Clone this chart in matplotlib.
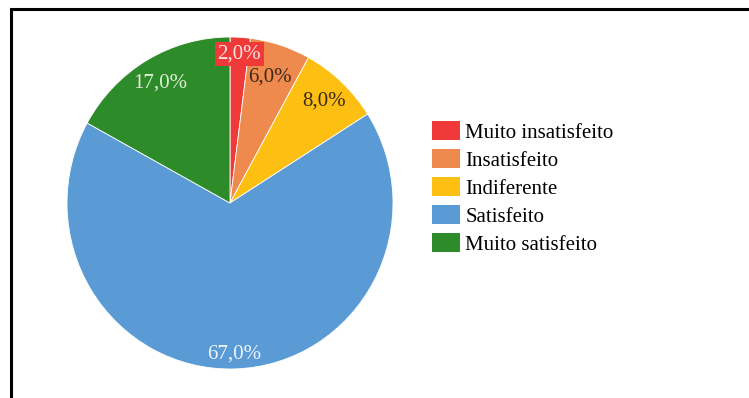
import numpy as np
import matplotlib
matplotlib.use("Agg")
import matplotlib.pyplot as plt
from matplotlib.patches import Rectangle

plt.rcParams['font.family'] = ['Liberation Serif', 'DejaVu Serif']

categorias = ["Muito insatisfeito", "Insatisfeito", "Indiferente", "Satisfeito", "Muito satisfeito"]
percentuais = [2.0, 6.0, 8.0, 67.0, 17.0]
cores = ["#f03a3a", "#ef8a4f", "#fcbf12", "#5b9bd5", "#2e8b2a"]
cores_texto = ["#fbe3e0", "#3a2a1a", "#3a2a1a", "#eef4fb", "#dff0d8"]

fig = plt.figure(figsize=(7.49, 3.98), dpi=100)
W, H = 749, 398

# black frame, open on the right and bottom
fig.patches.append(Rectangle((11 / W, -0.1), 1.2, 1 - 9 / H + 0.1, transform=fig.transFigure,
                             fill=False, edgecolor="black", linewidth=2.2))

# pie area: centre (230, 203), radii 163 x 166 px
cx, cy, rx, ry = 230, 203, 163, 166
ax = fig.add_axes([(cx - rx) / W, (H - cy - ry) / H, 2 * rx / W, 2 * ry / H])

wedges, _ = ax.pie(percentuais, colors=cores, startangle=90, counterclock=False,
                   radius=1, wedgeprops=dict(edgecolor="white", linewidth=0.6))
ax.set_aspect("auto")
ax.set_xlim(-1, 1)
ax.set_ylim(-1, 1)

# percentage labels placed along each wedge's bisector
raios = [0.9, 0.8, 0.845, 0.91, 0.84]
for i, (w, p, c, rr) in enumerate(zip(wedges, percentuais, cores_texto, raios)):
    ang = np.deg2rad((w.theta1 + w.theta2) / 2)
    x, y = rr * np.cos(ang), rr * np.sin(ang)
    txt = ("%.1f%%" % p).replace(".", ",")
    kw = {}
    if i == 0:
        kw["bbox"] = dict(boxstyle="square,pad=0.12", fc=cores[0], ec="none")
    ax.text(x, y, txt, ha="center", va="center", fontsize=15, color=c, **kw)

handles = [Rectangle((0, 0), 1, 1, fc=c, ec="none") for c in cores]
fig.legend(handles, categorias, loc="upper left", bbox_to_anchor=(432 / W, 1 - 121 / H),
           frameon=False, fontsize=15, handlelength=1.35, handleheight=1.05,
           handletextpad=0.25, labelspacing=0.3, borderaxespad=0, borderpad=0)

fig.savefig("out.png", dpi=100)
